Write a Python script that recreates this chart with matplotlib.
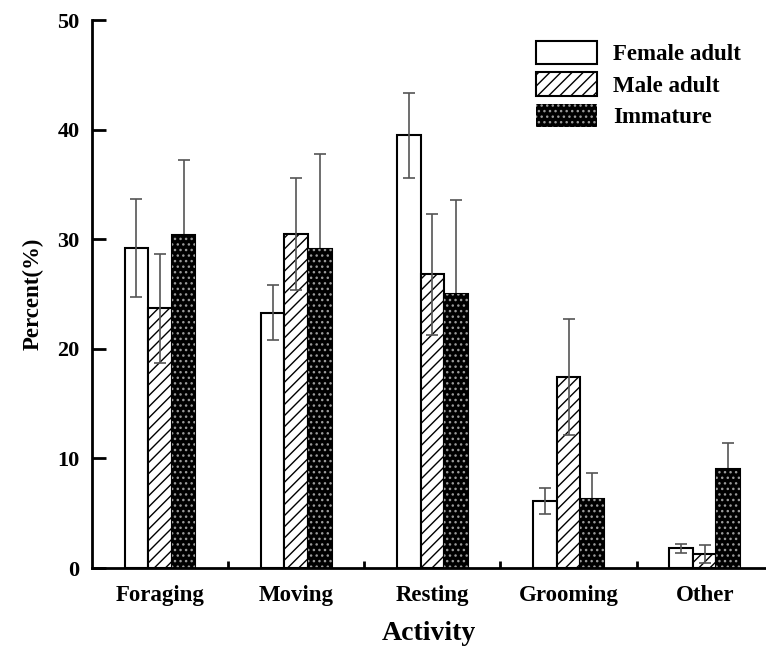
import numpy as np
import matplotlib
matplotlib.use("Agg")
import matplotlib.pyplot as plt
from matplotlib.patches import Patch

plt.rcParams['font.family'] = ['Liberation Serif', 'DejaVu Serif']
plt.rcParams['font.weight'] = 'bold'
plt.rcParams['hatch.linewidth'] = 1.0

# data
activities = ["Foraging", "Moving", "Resting", "Grooming", "Other"]
female = [29.2, 23.3, 39.5, 6.1, 1.8]
female_err = [4.5, 2.5, 3.9, 1.2, 0.4]
male = [23.7, 30.5, 26.8, 17.4, 1.3]
male_err = [5.0, 5.1, 5.5, 5.3, 0.8]
immature = [30.4, 29.1, 25.0, 6.3, 9.0]
immature_err = [6.8, 8.7, 8.6, 2.4, 2.4]

x = np.arange(len(activities))
w = 0.173

fig = plt.figure(figsize=(7.66, 6.46), dpi=100)
ax = fig.add_axes([0.120, 0.1207, 0.88, 0.848])

err_kw = dict(ecolor="#555555", elinewidth=1.2, capsize=4, capthick=1.2)

ax.bar(x - w, female, w, yerr=female_err, color="white", edgecolor="black",
       linewidth=1.5, error_kw=err_kw, zorder=2)
ax.bar(x, male, w, yerr=male_err, color="white", edgecolor="black",
       linewidth=1.5, hatch="///", error_kw=err_kw, zorder=2)
# immature error bars sit behind the dark bars
ax.errorbar(x + w, immature, yerr=immature_err, fmt="none", zorder=1, **err_kw)
ax.bar(x + w, immature, w, color="black", edgecolor="black", linewidth=1.5, zorder=2)
# grey dots on the black bars
ax.bar(x + w, immature, w, color="none", edgecolor="#9a9a9a", linewidth=0,
       hatch="...", zorder=2.5)

ax.set_xlim(-0.5, 4.45)
ax.set_ylim(0, 50)
ax.set_yticks([0, 10, 20, 30, 40, 50])
ax.set_xticks(x)
ax.set_xticklabels(activities, fontsize=16.5, fontweight="bold")
ax.set_xticks(x[:-1] + 0.5, minor=True)
ax.tick_params(axis="x", which="major", length=0, pad=12)
ax.tick_params(axis="x", which="minor", direction="in", length=5, width=2)
ax.tick_params(axis="y", direction="in", length=10, width=2, labelsize=16, pad=9)
for lab in ax.get_yticklabels():
    lab.set_fontweight("bold")

for s in ["top", "right"]:
    ax.spines[s].set_visible(False)
for s in ["left", "bottom"]:
    ax.spines[s].set_linewidth(2)

ax.set_xlabel("Activity", fontsize=20, fontweight="bold", labelpad=11)
ax.set_ylabel("Percent(%)", fontsize=16.5, fontweight="bold", labelpad=10)

handles = [
    Patch(facecolor="white", edgecolor="black", linewidth=1.5, label="Female adult"),
    Patch(facecolor="white", edgecolor="black", linewidth=1.5, hatch="///", label="Male adult"),
    Patch(facecolor="black", edgecolor="#9a9a9a", linewidth=0, hatch="...", label="Immature"),
]
leg = ax.legend(handles=handles, loc="upper right", bbox_to_anchor=(0.994, 1.0),
                frameon=False, fontsize=16.5, handlelength=2.7, handleheight=1.2,
                handletextpad=0.7, labelspacing=0.3)

fig.savefig("out.png", dpi=100)
